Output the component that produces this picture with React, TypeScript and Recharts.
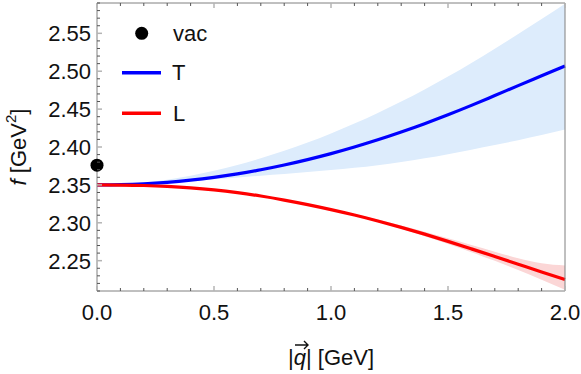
import React from "react";
import {
  ComposedChart,
  Area,
  Line,
  Scatter,
  XAxis,
  YAxis,
  Legend,
} from "recharts";

// momentum |q| in GeV
const qValues = [0, 0.1, 0.2, 0.3, 0.4, 0.5, 0.6, 0.7, 0.8, 0.9, 1.0, 1.1, 1.2, 1.3, 1.4, 1.5, 1.6, 1.7, 1.8, 1.9, 2.0];

// transverse channel
const tMid = [2.35, 2.3504, 2.3515, 2.3534, 2.3562, 2.3599, 2.3645, 2.37, 2.3763, 2.3834, 2.3913, 2.4, 2.4095, 2.4198, 2.4308, 2.4425, 2.4549, 2.4679, 2.481, 2.494, 2.507];
const tLow = [2.35, 2.3503, 2.3511, 2.3526, 2.3548, 2.3573, 2.3598, 2.3622, 2.3645, 2.3669, 2.3695, 2.3725, 2.376, 2.3802, 2.385, 2.3905, 2.3964, 2.4026, 2.409, 2.4158, 2.423];
const tHigh = [2.35, 2.3508, 2.353, 2.3568, 2.362, 2.3685, 2.3762, 2.385, 2.3949, 2.4059, 2.4179, 2.4309, 2.4449, 2.4599, 2.4759, 2.4929, 2.5109, 2.5297, 2.5492, 2.5688, 2.589];

// longitudinal channel
const lMid = [2.35, 2.3498, 2.3492, 2.348, 2.3461, 2.3434, 2.3398, 2.3353, 2.33, 2.324, 2.3174, 2.3102, 2.3024, 2.294, 2.285, 2.2755, 2.2656, 2.2555, 2.2453, 2.2351, 2.2251];
const lLow = [2.35, 2.3495, 2.3488, 2.3475, 2.3455, 2.3427, 2.3391, 2.3345, 2.3292, 2.3231, 2.3164, 2.3092, 2.3009, 2.292, 2.2823, 2.272, 2.2611, 2.2498, 2.2378, 2.2249, 2.2116];
const lHigh = [2.35, 2.3501, 2.3496, 2.3485, 2.3467, 2.3441, 2.3405, 2.3361, 2.3308, 2.3249, 2.3184, 2.3115, 2.3042, 2.2964, 2.2881, 2.2795, 2.2706, 2.2618, 2.2533, 2.2466, 2.2436];

// vacuum value
const vacQ = [0];
const vacF = [2.376];

const xTicks = [0, 0.1, 0.2, 0.3, 0.4, 0.5, 0.6, 0.7, 0.8, 0.9, 1.0, 1.1, 1.2, 1.3, 1.4, 1.5, 1.6, 1.7, 1.8, 1.9, 2.0];
const xMajor = [0, 0.5, 1.0, 1.5, 2.0];
const yTicks = [
  2.21, 2.22, 2.23, 2.24, 2.25, 2.26, 2.27, 2.28, 2.29, 2.3, 2.31, 2.32, 2.33,
  2.34, 2.35, 2.36, 2.37, 2.38, 2.39, 2.4, 2.41, 2.42, 2.43, 2.44, 2.45, 2.46,
  2.47, 2.48, 2.49, 2.5, 2.51, 2.52, 2.53, 2.54, 2.55, 2.56, 2.57, 2.58, 2.59,
];
const yMajor = [2.25, 2.3, 2.35, 2.4, 2.45, 2.5, 2.55];

const data = qValues.map((q, i) => ({
  q,
  t: tMid[i],
  tBand: [tLow[i], tHigh[i]],
  l: lMid[i],
  lBand: [lLow[i], lHigh[i]],
}));
const vacData = vacQ.map((q, i) => ({ q, vac: vacF[i] }));

const FONT = '"Liberation Sans", Arial, sans-serif';
const FRAME = "#808080";

const isMajor = (list: number[], v: number) => list.some((m) => Math.abs(m - v) < 1e-6);

function makeTick(side: "left" | "right" | "top" | "bottom", majors: number[], showLabel: boolean) {
  return (props: any) => {
    const { x, y, payload } = props;
    const v = payload.value as number;
    const major = isMajor(majors, v);
    const len = major ? 5 : 3;
    const stroke = major ? "#b4b4b4" : "#555";
    const sw = major ? 1.5 : 1;
    let line;
    if (side === "left") line = <line x1={x} y1={y} x2={x + len} y2={y} stroke={stroke} strokeWidth={sw} />;
    else if (side === "right") line = <line x1={x} y1={y} x2={x - len} y2={y} stroke={stroke} strokeWidth={sw} />;
    else if (side === "top") line = <line x1={x} y1={y} x2={x} y2={y + len} stroke={stroke} strokeWidth={sw} />;
    else line = <line x1={x} y1={y} x2={x} y2={y - len} stroke={stroke} strokeWidth={sw} />;
    let label = null;
    if (showLabel && major) {
      if (side === "left") {
        label = (
          <text x={x - 6} y={y + 8} textAnchor="end" fontSize={22} fontFamily={FONT} fill="#111">
            {v.toFixed(2)}
          </text>
        );
      } else if (side === "bottom") {
        label = (
          <text x={x} y={y + 29} textAnchor="middle" fontSize={22} fontFamily={FONT} fill="#111">
            {v.toFixed(1)}
          </text>
        );
      }
    }
    return (
      <g>
        {line}
        {label}
      </g>
    );
  };
}

function XLabel(props: any) {
  const { viewBox } = props;
  const cx = viewBox.x + viewBox.width / 2;
  const base = 365;
  const qx = cx - 30;
  return (
    <g>
      <text x={cx} y={base} textAnchor="middle" fontSize={22} fontFamily={FONT} fill="#111">
        <tspan>|</tspan>
        <tspan fontStyle="italic">q</tspan>
        <tspan>| [GeV]</tspan>
      </text>
      <path
        d={`M${qx - 6} ${base - 20} L${qx + 7} ${base - 20} M${qx + 3} ${base - 24} L${qx + 7} ${base - 20} L${qx + 3} ${base - 16}`}
        stroke="#111"
        strokeWidth={1.4}
        fill="none"
      />
    </g>
  );
}

function YLabel(props: any) {
  const { viewBox } = props;
  const cy = viewBox.y + viewBox.height / 2;
  const cx = 18;
  return (
    <text
      x={cx}
      y={cy}
      transform={`rotate(-90, ${cx}, ${cy})`}
      textAnchor="middle"
      dominantBaseline="central"
      fontSize={22}
      fontFamily={FONT}
      fill="#111"
    >
      <tspan fontStyle="italic">f</tspan>
      <tspan> [GeV</tspan>
      <tspan dy={-8} fontSize={15}>2</tspan>
      <tspan dy={8}>]</tspan>
    </text>
  );
}

function LegendBox() {
  return (
    <svg width={220} height={140} style={{ display: "block" }}>
      <circle cx={141.7} cy={33.3} r={6.5} fill="#000" />
      <text x={173} y={41} fontSize={22} fontFamily={FONT} fill="#111">vac</text>
      <line x1={122} y1={72.7} x2={161} y2={72.7} stroke="#0000ff" strokeWidth={3.5} />
      <text x={172} y={80} fontSize={22} fontFamily={FONT} fill="#111">T</text>
      <line x1={122} y1={113.3} x2={161} y2={113.3} stroke="#ff0000" strokeWidth={3.5} />
      <text x={173} y={121} fontSize={22} fontFamily={FONT} fill="#111">L</text>
    </svg>
  );
}

export default function App() {
  return (
    <div style={{ position: "absolute", left: 0, top: 0, width: 581, height: 374, background: "#fff" }}>
      <ComposedChart width={581} height={374} data={data} margin={{ top: 2, right: 15, bottom: 0, left: 0 }}>
        <XAxis
          dataKey="q"
          type="number"
          domain={[0, 2]}
          ticks={xTicks}
          interval={0}
          height={83}
          tickSize={0}
          tickMargin={0}
          tickLine={false}
          axisLine={{ stroke: FRAME }}
          tick={makeTick("bottom", xMajor, true)}
          label={{ content: XLabel }}
        />
        <XAxis
          xAxisId="top"
          orientation="top"
          dataKey="q"
          type="number"
          domain={[0, 2]}
          ticks={xTicks}
          interval={0}
          height={1}
          tickSize={0}
          tickMargin={0}
          tickLine={false}
          axisLine={{ stroke: FRAME }}
          tick={makeTick("top", xMajor, false)}
        />
        <YAxis
          type="number"
          domain={[2.21, 2.59]}
          ticks={yTicks}
          interval={0}
          width={97}
          tickSize={0}
          tickMargin={0}
          tickLine={false}
          axisLine={{ stroke: FRAME }}
          tick={makeTick("left", yMajor, true)}
          label={{ content: YLabel }}
        />
        <YAxis
          yAxisId="right"
          orientation="right"
          type="number"
          domain={[2.21, 2.59]}
          ticks={yTicks}
          interval={0}
          width={1}
          tickSize={0}
          tickMargin={0}
          tickLine={false}
          axisLine={{ stroke: FRAME }}
          tick={makeTick("right", yMajor, false)}
        />
        <Area
          dataKey="tBand"
          type="monotone"
          fill="#ddecfc"
          fillOpacity={1}
          stroke="none"
          isAnimationActive={false}
          legendType="none"
        />
        <Area
          dataKey="lBand"
          type="monotone"
          fill="#fbd6d6"
          fillOpacity={1}
          stroke="none"
          isAnimationActive={false}
          legendType="none"
        />
        <Line dataKey="t" type="monotone" stroke="#0000ff" strokeWidth={3.2} dot={false} activeDot={false} isAnimationActive={false} />
        <Line dataKey="l" type="monotone" stroke="#ff0000" strokeWidth={3.2} dot={false} activeDot={false} isAnimationActive={false} />
        <Scatter
          data={vacData}
          dataKey="vac"
          isAnimationActive={false}
          shape={(p: any) => <circle cx={p.cx} cy={p.cy} r={6.5} fill="#000" />}
        />
        <Legend
          layout="horizontal"
          verticalAlign="middle"
          align="center"
          content={() => <LegendBox />}
          wrapperStyle={{ left: 0, top: 0, width: 220, height: 140 }}
        />
      </ComposedChart>
    </div>
  );
}
